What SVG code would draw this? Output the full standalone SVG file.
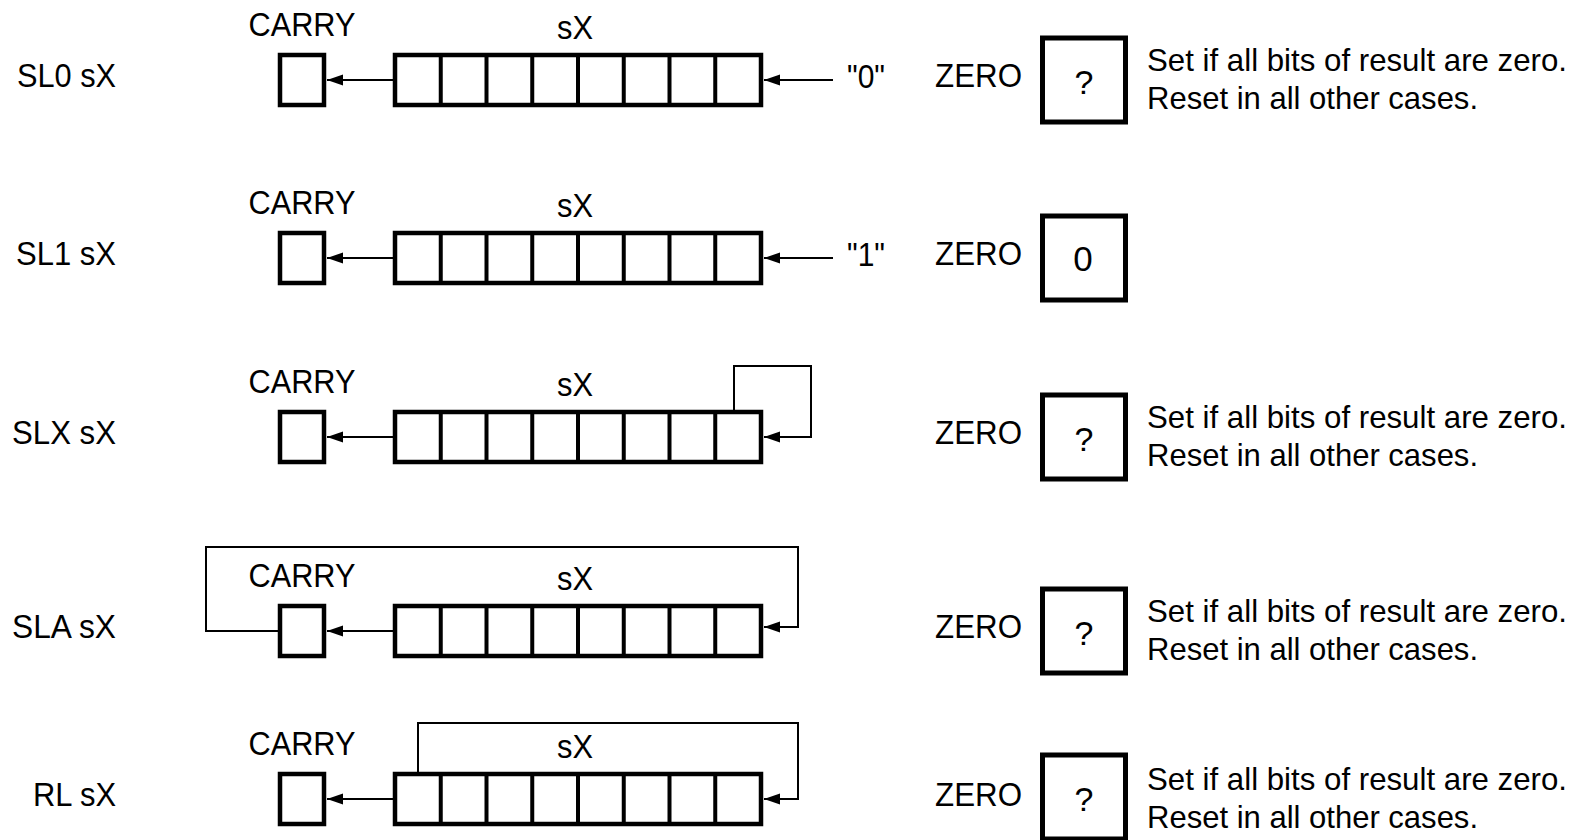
<svg xmlns="http://www.w3.org/2000/svg" width="1579" height="840" viewBox="0 0 1579 840">
<defs>
<style>
.t{font-family:"Liberation Sans",Arial,Helvetica,sans-serif;font-size:34px;fill:#000}
.m{text-anchor:middle}
.e{text-anchor:end}
.d{font-size:32px}
.box{fill:#fff;stroke:#000;stroke-width:4.5}
.zb{fill:#fff;stroke:#000;stroke-width:5}
.dv{stroke:#000;stroke-width:4}
.w{fill:none;stroke:#000;stroke-width:2}
</style>
<marker id="ah" markerUnits="userSpaceOnUse" markerWidth="16" markerHeight="12" viewBox="0 0 16 12" refX="16" refY="6" orient="auto">
<path d="M0,0.5 L16,6 L0,11.5 z" fill="#000"/>
</marker>
<g id="reg">
<rect class="box" x="395" y="0" width="366" height="50"/>
<path class="dv" d="M440.75,0V50M486.5,0V50M532.25,0V50M578,0V50M623.75,0V50M669.5,0V50M715.25,0V50"/>
</g>
</defs>
<rect width="1579" height="840" fill="#fff"/>

<g id="connectors">
<line class="w" x1="393" y1="80" x2="327" y2="80" marker-end="url(#ah)"/>
<line class="w" x1="833" y1="80" x2="764" y2="80" marker-end="url(#ah)"/>
<line class="w" x1="393" y1="258" x2="327" y2="258" marker-end="url(#ah)"/>
<line class="w" x1="833" y1="258" x2="764" y2="258" marker-end="url(#ah)"/>
<line class="w" x1="393" y1="437" x2="327" y2="437" marker-end="url(#ah)"/>
<path class="w" d="M734,410 V366 H811 V437 H764" marker-end="url(#ah)"/>
<line class="w" x1="393" y1="631" x2="327" y2="631" marker-end="url(#ah)"/>
<path class="w" d="M278,631 H206 V547 H798 V627 H764" marker-end="url(#ah)"/>
<line class="w" x1="393" y1="799" x2="327" y2="799" marker-end="url(#ah)"/>
<path class="w" d="M418,774 V723 H798 V799 H764" marker-end="url(#ah)"/>
</g>

<g id="row1">
<text class="t e" x="116" y="87" textLength="99" lengthAdjust="spacingAndGlyphs">SL0 sX</text>
<g id="row1-carry"><text class="t m" x="302" y="36" textLength="107" lengthAdjust="spacingAndGlyphs">CARRY</text><rect class="box" x="280" y="55" width="44" height="50"/></g>
<g id="row1-sx"><text class="t m" x="575" y="39" textLength="36" lengthAdjust="spacingAndGlyphs">sX</text><use href="#reg" y="55"/></g>
<text class="t" x="847" y="88" textLength="38" lengthAdjust="spacingAndGlyphs">"0"</text>
<g id="row1-zero"><text class="t" x="935" y="87" textLength="87" lengthAdjust="spacingAndGlyphs">ZERO</text><rect class="zb" x="1042.5" y="38" width="83" height="84"/><text class="t m" x="1084" y="94">?</text></g>
<text class="t d" x="1147" y="71" textLength="420" lengthAdjust="spacingAndGlyphs">Set if all bits of result are zero.</text>
<text class="t d" x="1147" y="109" textLength="331" lengthAdjust="spacingAndGlyphs">Reset in all other cases.</text>
</g>

<g id="row2">
<text class="t e" x="116" y="265" textLength="100" lengthAdjust="spacingAndGlyphs">SL1 sX</text>
<g id="row2-carry"><text class="t m" x="302" y="214" textLength="107" lengthAdjust="spacingAndGlyphs">CARRY</text><rect class="box" x="280" y="233" width="44" height="50"/></g>
<g id="row2-sx"><text class="t m" x="575" y="217" textLength="36" lengthAdjust="spacingAndGlyphs">sX</text><use href="#reg" y="233"/></g>
<text class="t" x="847" y="266" textLength="38" lengthAdjust="spacingAndGlyphs">"1"</text>
<g id="row2-zero"><text class="t" x="935" y="265" textLength="87" lengthAdjust="spacingAndGlyphs">ZERO</text><rect class="zb" x="1042.5" y="216" width="83" height="84"/><text class="t m" x="1083" y="271" style="font-size:35px">0</text></g>
</g>

<g id="row3">
<text class="t e" x="116" y="444" textLength="104" lengthAdjust="spacingAndGlyphs">SLX sX</text>
<g id="row3-carry"><text class="t m" x="302" y="393" textLength="107" lengthAdjust="spacingAndGlyphs">CARRY</text><rect class="box" x="280" y="412" width="44" height="50"/></g>
<g id="row3-sx"><text class="t m" x="575" y="396" textLength="36" lengthAdjust="spacingAndGlyphs">sX</text><use href="#reg" y="412"/></g>
<g id="row3-zero"><text class="t" x="935" y="444" textLength="87" lengthAdjust="spacingAndGlyphs">ZERO</text><rect class="zb" x="1042.5" y="395" width="83" height="84"/><text class="t m" x="1084" y="451">?</text></g>
<text class="t d" x="1147" y="428" textLength="420" lengthAdjust="spacingAndGlyphs">Set if all bits of result are zero.</text>
<text class="t d" x="1147" y="466" textLength="331" lengthAdjust="spacingAndGlyphs">Reset in all other cases.</text>
</g>

<g id="row4">
<text class="t e" x="116" y="638" textLength="104" lengthAdjust="spacingAndGlyphs">SLA sX</text>
<g id="row4-carry"><text class="t m" x="302" y="587" textLength="107" lengthAdjust="spacingAndGlyphs">CARRY</text><rect class="box" x="280" y="606" width="44" height="50"/></g>
<g id="row4-sx"><text class="t m" x="575" y="590" textLength="36" lengthAdjust="spacingAndGlyphs">sX</text><use href="#reg" y="606"/></g>
<g id="row4-zero"><text class="t" x="935" y="638" textLength="87" lengthAdjust="spacingAndGlyphs">ZERO</text><rect class="zb" x="1042.5" y="589" width="83" height="84"/><text class="t m" x="1084" y="645">?</text></g>
<text class="t d" x="1147" y="622" textLength="420" lengthAdjust="spacingAndGlyphs">Set if all bits of result are zero.</text>
<text class="t d" x="1147" y="660" textLength="331" lengthAdjust="spacingAndGlyphs">Reset in all other cases.</text>
</g>

<g id="row5">
<text class="t e" x="116" y="806" textLength="83" lengthAdjust="spacingAndGlyphs">RL sX</text>
<g id="row5-carry"><text class="t m" x="302" y="755" textLength="107" lengthAdjust="spacingAndGlyphs">CARRY</text><rect class="box" x="280" y="774" width="44" height="50"/></g>
<g id="row5-sx"><text class="t m" x="575" y="758" textLength="36" lengthAdjust="spacingAndGlyphs">sX</text><use href="#reg" y="774"/></g>
<g id="row5-zero"><text class="t" x="935" y="806" textLength="87" lengthAdjust="spacingAndGlyphs">ZERO</text><rect class="zb" x="1042.5" y="755" width="83" height="84"/><text class="t m" x="1084" y="811">?</text></g>
<text class="t d" x="1147" y="790" textLength="420" lengthAdjust="spacingAndGlyphs">Set if all bits of result are zero.</text>
<text class="t d" x="1147" y="828" textLength="331" lengthAdjust="spacingAndGlyphs">Reset in all other cases.</text>
</g>
</svg>
